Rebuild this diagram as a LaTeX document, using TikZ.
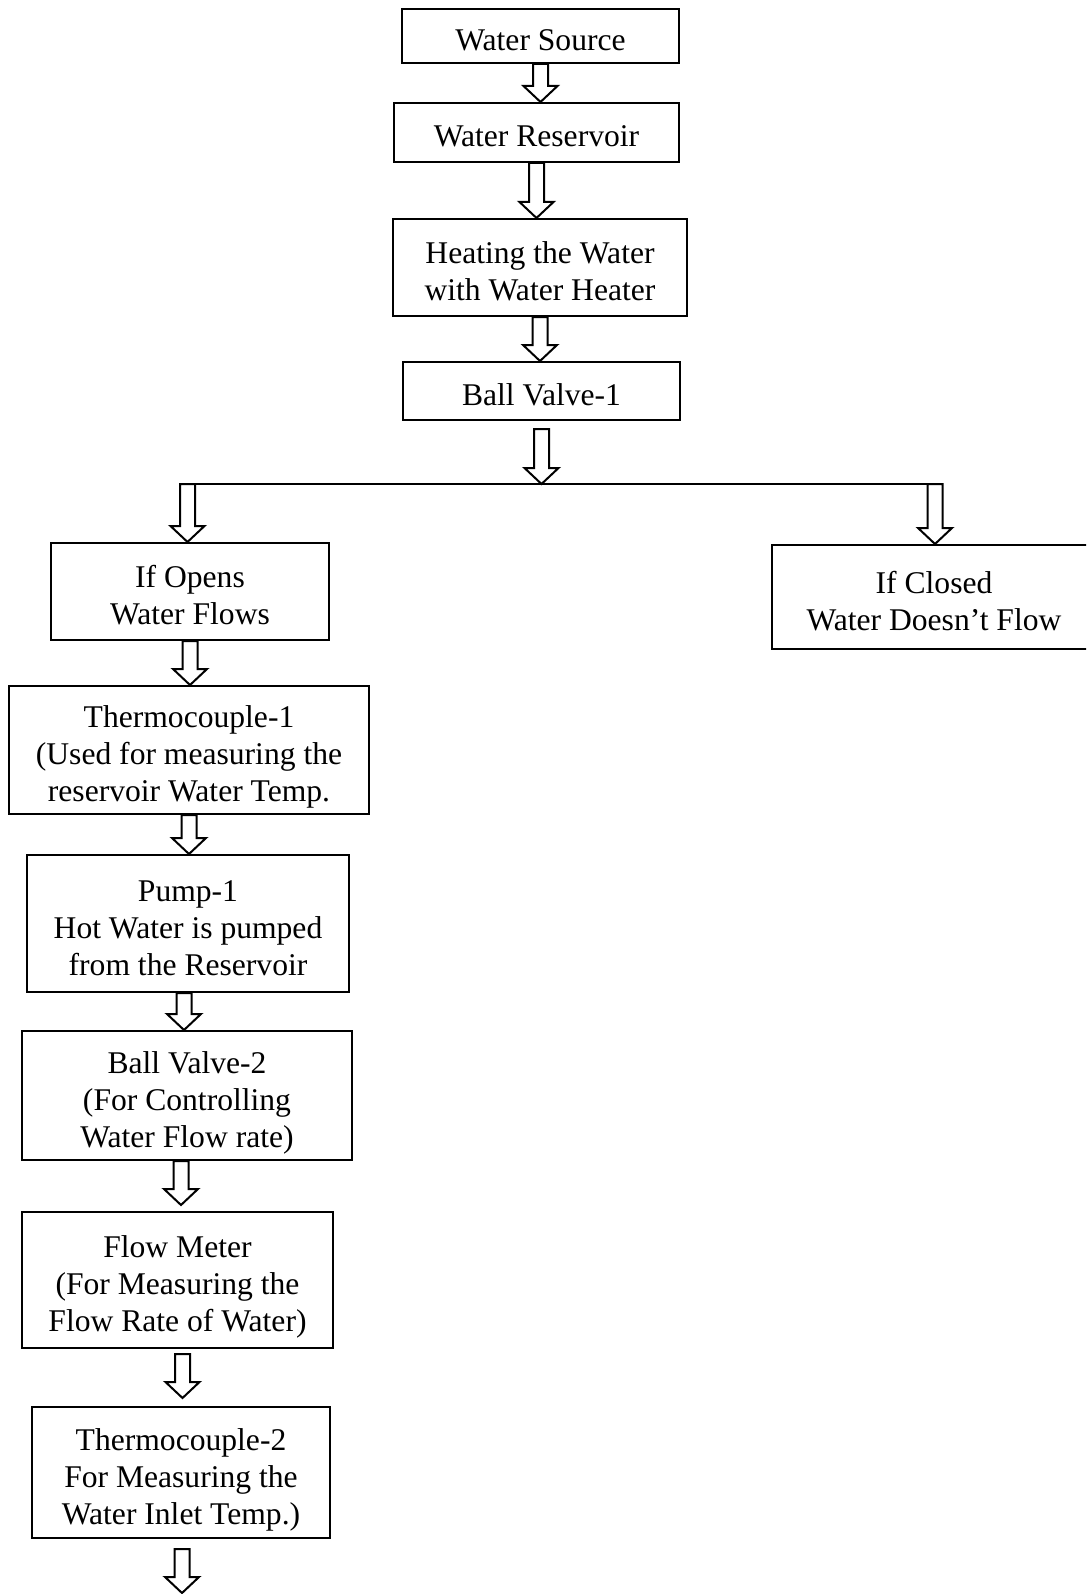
\documentclass[tikz,border=0pt]{standalone}
\usepackage{fontspec}
\setmainfont{Liberation Serif}
\usetikzlibrary{calc}
\tikzset{
  stage/.style={draw=black, line width=1pt, align=center, inner sep=0pt,
    font=\fontsize{15.8}{18.5}\selectfont,
    text height=#1*18.5pt, text depth=4pt},
  stage/.default=1,
  flowarrow/.style={draw=black, fill=white, line width=1pt, line join=miter},
  branch/.style={draw=black, line width=0.7pt}
}
\newcommand{\flowarrow}[2]{%
  \draw[flowarrow] let \p1=#1, \p2=#2 in
    (\x1-3.75pt,\y1) -- (\x1-3.75pt,\y2+8pt) -- (\x1-8.5pt,\y2+8pt) -- (\x1,\y2)
    -- (\x1+8.5pt,\y2+8pt) -- (\x1+3.75pt,\y2+8pt) -- (\x1+3.75pt,\y1) -- cycle;}
\begin{document}
\begin{tikzpicture}[x=0.5pt,y=-0.5pt]
	\useasboundingbox (0,0) rectangle (1086,1594);
	\clip (0,0) rectangle (1086,1594);
		\node[stage,minimum width=138.5pt,minimum height=27pt] (src) at (540.5,36) {Water Source};
		\node[stage,minimum width=142.5pt,minimum height=29.5pt] (res) at (536.5,132.5) {Water Reservoir};
		\node[stage=2,minimum width=147pt,minimum height=48.5pt] (heat) at (540,267.5) {Heating the Water\\with Water Heater};
		\node[stage,minimum width=138.5pt,minimum height=29pt] (bv1) at (541.5,391) {Ball Valve-1};
		\node[stage=2,minimum width=139pt,minimum height=48.5pt] (open) at (190,591.5) {If Opens\\Water Flows};
		\node[stage=2,minimum width=162pt,minimum height=52pt] (closed) at (934,597) {If Closed\\Water Doesn't Flow};
		\node[stage=3,minimum width=180pt,minimum height=64pt] (tc1) at (189,750) {Thermocouple-1\\(Used for measuring the\\reservoir Water Temp.};
		\node[stage=3,minimum width=161pt,minimum height=68.5pt] (pump) at (188,923.5) {Pump-1\\Hot Water is pumped\\from the Reservoir};
		\node[stage=3,minimum width=165pt,minimum height=64.5pt] (bv2) at (187,1095.5) {Ball Valve-2\\(For Controlling\\Water Flow rate)};
		\node[stage=3,minimum width=155.5pt,minimum height=68pt] (flow) at (177.5,1280) {Flow Meter\\(For Measuring the\\Flow Rate of Water)};
		\node[stage=3,minimum width=149pt,minimum height=65.5pt] (tc2) at (181,1472.5) {Thermocouple-2\\For Measuring the\\Water Inlet Temp.)};
		\coordinate (splitL) at (179,484);
		\coordinate (splitR) at (943,484);
		\coordinate (split) at (540,484);
		\coordinate (splitA) at (187.5,484);
		\coordinate (splitB) at (935,484);
		\coordinate (outlet) at (182,1593);
		\draw[branch] (splitL) -- (splitR);
		\flowarrow{(src.south)}{(res.north)}
		\flowarrow{(res.south)}{(heat.north)}
		\flowarrow{(heat.south)}{(bv1.north)}
		\flowarrow{([yshift=-4pt]bv1.south)}{(split)}
		\flowarrow{(splitA)}{(open.north)}
		\flowarrow{(splitB)}{(closed.north)}
		\flowarrow{(open.south)}{(tc1.north)}
		\flowarrow{(tc1.south)}{(pump.north)}
		\flowarrow{([xshift=-2pt]pump.south)}{(bv2.north)}
		\flowarrow{([xshift=-3pt]bv2.south)}{([yshift=3pt]flow.north)}
		\flowarrow{([xshift=2.5pt,yshift=-2.5pt]flow.south)}{([yshift=4pt]tc2.north)}
		\flowarrow{([xshift=0.5pt,yshift=-5pt]tc2.south)}{(outlet)}
	\end{tikzpicture}
\end{document}
